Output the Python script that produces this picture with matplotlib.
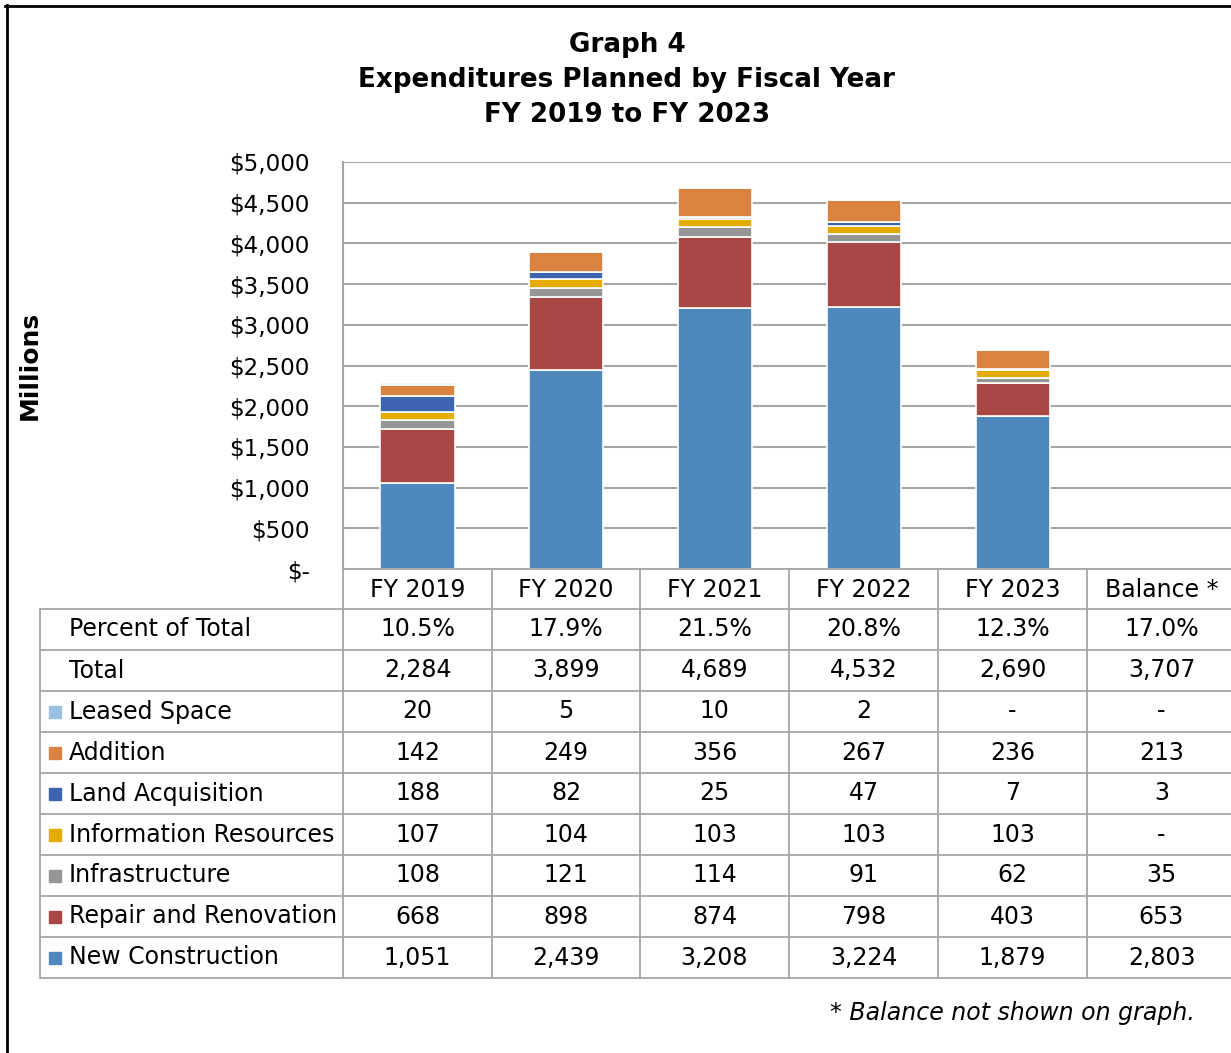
import matplotlib.pyplot as plt
from matplotlib.lines import Line2D
from matplotlib.patches import Rectangle

# Data (millions of dollars)
years = ["FY 2019", "FY 2020", "FY 2021", "FY 2022", "FY 2023", "Balance *"]
percent_of_total = ["10.5%", "17.9%", "21.5%", "20.8%", "12.3%", "17.0%"]
total = [2284, 3899, 4689, 4532, 2690, 3707]
leased_space = [20, 5, 10, 2, 0, 0]
addition = [142, 249, 356, 267, 236, 213]
land_acquisition = [188, 82, 25, 47, 7, 3]
information_resources = [107, 104, 103, 103, 103, 0]
infrastructure = [108, 121, 114, 91, 62, 35]
repair_renovation = [668, 898, 874, 798, 403, 653]
new_construction = [1051, 2439, 3208, 3224, 1879, 2803]
y_ticks = [0, 500, 1000, 1500, 2000, 2500, 3000, 3500, 4000, 4500, 5000]

# stacking order, bottom to top
series = [
    ("New Construction", new_construction, "#4F88BD"),
    ("Repair and Renovation", repair_renovation, "#A94745"),
    ("Infrastructure", infrastructure, "#969696"),
    ("Information Resources", information_resources, "#E4AB00"),
    ("Land Acquisition", land_acquisition, "#3D65AF"),
    ("Addition", addition, "#DA8340"),
    ("Leased Space", leased_space, "#9DC0E2"),
]

W, H = 1231, 1053
FS = 17
GRID = "#A6A6A6"


def fx(px):
    return px / W


def fy(py):
    return 1 - py / H


fig = plt.figure(figsize=(W / 100, H / 100), dpi=100)

# bar area (right edge runs slightly past the figure, as in the original)
ax = fig.add_axes([fx(343), fy(569), (1236 - 343) / W, (569 - 162) / H])
n_bars = 5
bottoms = [0] * n_bars
for name, vals, color in series:
    ax.bar(range(n_bars), vals[:n_bars], 0.5, bottom=bottoms, color=color,
           edgecolor="white", linewidth=1.2, zorder=3)
    bottoms = [b + v for b, v in zip(bottoms, vals[:n_bars])]

ax.set_xlim(-0.5, 5.5)
ax.set_ylim(0, 5000)
ax.set_xticks([])
ax.set_yticks(y_ticks)
ax.set_yticklabels(["$-" if t == 0 else "${:,}".format(t) for t in y_ticks], fontsize=16.6)
ax.tick_params(axis="y", length=0, pad=24)
ax.grid(axis="y", color=GRID, linewidth=1.5, zorder=0)
for s in ["top", "right", "bottom"]:
    ax.spines[s].set_visible(False)
ax.spines["left"].set_color(GRID)
ax.spines["left"].set_linewidth(1.5)

# titles
for txt, py in [("Graph 4", 45), ("Expenditures Planned by Fiscal Year", 80),
                ("FY 2019 to FY 2023", 115)]:
    fig.text(fx(627), fy(py), txt, ha="center", va="center", fontsize=18.8, fontweight="bold")

fig.text(fx(30), fy(365), "Millions", rotation=90, ha="center", va="center",
         fontsize=18, fontweight="bold")

# data table below the bars
col_edges = [343, 492, 640, 789, 938, 1087, 1236]
row_edges = [609, 650, 691, 732, 773, 814, 855, 896, 937, 978]


def hline(py, x0, x1):
    fig.add_artist(Line2D([fx(x0), fx(x1)], [fy(py), fy(py)], color=GRID, lw=1.3))


def vline(px, y0, y1):
    fig.add_artist(Line2D([fx(px), fx(px)], [fy(y0), fy(y1)], color=GRID, lw=1.3))


hline(569, 343, 1236)
for py in row_edges:
    hline(py, 40, 1236)
vline(40, 609, 978)
for px in col_edges:
    vline(px, 569, 978)

centers = [(a + b) / 2 for a, b in zip(col_edges[:-1], col_edges[1:])]
for cx, yr in zip(centers, years):
    fig.text(fx(cx), fy(590), yr, ha="center", va="center", fontsize=FS)


def fmt(v):
    return "-" if v == 0 else "{:,}".format(v)


rows = [("Percent of Total", percent_of_total, None),
        ("Total", [fmt(v) for v in total], None)]
for name, vals, color in reversed(series):
    rows.append((name, [fmt(v) for v in vals], color))

for i, (name, cells, color) in enumerate(rows):
    cy = (row_edges[i] + row_edges[i + 1]) / 2
    fig.text(fx(69), fy(cy), name, ha="left", va="center", fontsize=FS)
    if color is not None:
        fig.add_artist(Rectangle((fx(49), fy(cy + 6)), 12 / W, 12 / H, color=color,
                                 transform=fig.transFigure))
    for cx, c in zip(centers, cells):
        fig.text(fx(cx), fy(cy), c, ha="center", va="center", fontsize=FS)

fig.text(fx(1195), fy(1013), "* Balance not shown on graph.", ha="right", va="center",
         fontsize=FS, style="italic")

# outer frame (top and left edges visible)
fig.add_artist(Line2D([fx(5), fx(1231)], [fy(6), fy(6)], color="black", lw=2))
fig.add_artist(Line2D([fx(7), fx(7)], [fy(5), fy(1053)], color="black", lw=2))

fig.savefig("out.png", dpi=100)
